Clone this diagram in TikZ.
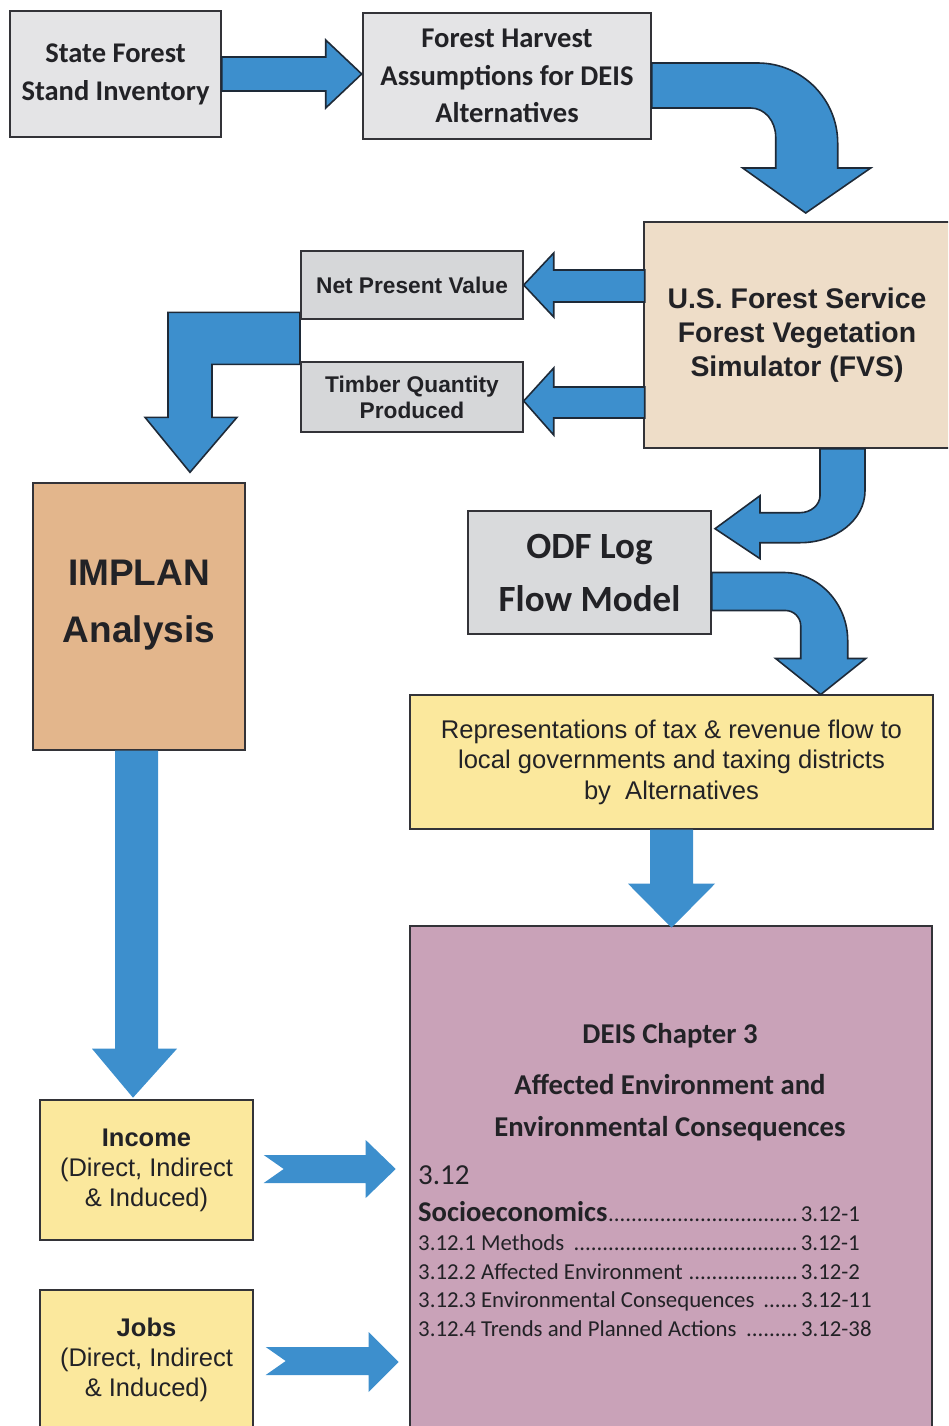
\documentclass[tikz,border=0pt]{standalone}
\usepackage{fontspec}
\setmainfont{Liberation Sans}
\newfontfamily\calib{Carlito}
\usetikzlibrary{calc,backgrounds}
\definecolor{arrowblue}{HTML}{3D8FCD}
\definecolor{arrowline}{HTML}{1E2A38}
\definecolor{boxline}{HTML}{333338}
\definecolor{grayA}{HTML}{E4E4E6}
\definecolor{grayB}{HTML}{D6D7D9}
\definecolor{grayC}{HTML}{D9DADC}
\definecolor{tanA}{HTML}{EEDDC8}
\definecolor{orangeA}{HTML}{E3B68C}
\definecolor{yellowA}{HTML}{FBE89D}
\definecolor{purpleA}{HTML}{C9A2B8}
\definecolor{txt}{HTML}{222226}
\newcommand\tocdots{\leaders\hbox{.}\hfill}
\begin{document}
\begin{tikzpicture}[x=1pt,y=-1pt,
  box/.style={draw=boxline,line width=1.4pt,inner sep=0pt,align=center,text=txt},
  barrow/.style={fill=arrowblue,draw=arrowline,line width=1.6pt,line join=miter},
  farrow/.style={fill=arrowblue},
  head/.style={anchor=base,inner sep=0pt,text=txt,font=\calib\bfseries\fontsize{28.7}{32}\selectfont},
  tocline/.style={anchor=base west,inner sep=0pt,text=txt,font=\calib\fontsize{22.8}{26}\selectfont}]
\useasboundingbox (0,0) rectangle (948,1426);
\clip (0,0) rectangle (948,1426);

% boxes
\node[box,fill=grayA,minimum width=211pt,minimum height=126pt,
  font=\calib\bfseries\fontsize{28.5}{38}\selectfont] (inv) at (115.5,74) {State Forest\\Stand Inventory};
\node[box,fill=grayA,minimum width=288pt,minimum height=126pt,
  font=\calib\bfseries\fontsize{28.6}{37.5}\selectfont] (harv) at (507,76) {Forest Harvest\\Assumptions for DEIS\\Alternatives};
\node[box,fill=tanA,minimum width=306pt,minimum height=226pt,
  font=\bfseries\fontsize{28.4}{34}\selectfont] (fvs) at (797,335) {U.S. Forest Service\\Forest Vegetation\\Simulator (FVS)};
\node[box,fill=grayB,minimum width=222pt,minimum height=68pt,
  font=\bfseries\fontsize{22.7}{26}\selectfont] (npv) at (412,285) {Net Present Value};
\node[box,fill=grayB,minimum width=222pt,minimum height=70pt,
  font=\bfseries\fontsize{22.7}{26}\selectfont] (timber) at (412,397) {Timber Quantity\\Produced};
\node[box,fill=orangeA,minimum width=212pt,minimum height=267pt] (implan) at (139,616.5) {};
\node[text=txt,align=center,font=\bfseries\fontsize{37}{57}\selectfont] (implanT) at ($(implan.center)+(0,-11)$) {IMPLAN\\Analysis};
\node[box,fill=grayC,minimum width=243pt,minimum height=123pt,
  font=\calib\bfseries\fontsize{37}{53}\selectfont] (odf) at (589.5,572.5) {ODF Log\\Flow Model};
\node[box,fill=yellowA,minimum width=523pt,minimum height=134pt,
  font=\fontsize{25.6}{30.5}\selectfont] (rep) at (671.5,762) {Representations of tax \& revenue flow to\\local governments and taxing districts\\by\ \ Alternatives};
\node[box,fill=purpleA,minimum width=522pt,minimum height=504pt] (deis) at (671,1178) {};
\node[box,fill=yellowA,minimum width=213pt,minimum height=140pt,
  font=\fontsize{25.5}{30}\selectfont] (income) at (146.5,1170) {\textbf{Income}\\(Direct, Indirect\\\& Induced)};
\node[box,fill=yellowA,minimum width=213pt,minimum height=140pt,
  font=\fontsize{25.5}{30}\selectfont] (jobs) at (146.5,1360) {\textbf{Jobs}\\(Direct, Indirect\\\& Induced)};

% DEIS text
\node[head] (h1) at (670,1043) {DEIS Chapter 3};
\node[head] (h2) at (670,1094) {Affected Environment and};
\node[head] (h3) at (670,1136) {Environmental Consequences};
\node[tocline,font=\calib\fontsize{29}{32}\selectfont] (t0) at (418,1184) {3.12};
\node[tocline] (t1) at (418,1221) {\makebox[380pt][l]{{\bfseries\fontsize{28.6}{32}\selectfont Socioeconomics}\tocdots}\hspace{3pt}3.12-1};
\node[tocline] (t2) at (418,1250) {\makebox[380pt][l]{3.12.1 Methods \tocdots}\hspace{3pt}3.12-1};
\node[tocline] (t3) at (418,1279) {\makebox[380pt][l]{3.12.2 Affected Environment \tocdots}\hspace{3pt}3.12-2};
\node[tocline] (t4) at (418,1307) {\makebox[380pt][l]{3.12.3 Environmental Consequences \tocdots}\hspace{3pt}3.12-11};
\node[tocline] (t5) at (418,1336) {\makebox[380pt][l]{3.12.4 Trends and Planned Actions \tocdots}\hspace{3pt}3.12-38};

% bent arrow behind NPV / Timber boxes, into IMPLAN
\begin{scope}[on background layer,shift={(implan.north)}]
\draw[barrow] (161,-170) -- (29,-170) -- (29,-65) -- (6,-65) -- (51,-10)
  -- (98,-65) -- (73,-65) -- (73,-118) -- (161,-118) -- cycle;
\end{scope}

% inventory -> harvest
\begin{scope}[shift={(inv.east)}]
\draw[barrow] (0,-17) -- (104,-17) -- (104,-34) -- (140,0) -- (104,34) -- (104,17) -- (0,17) -- cycle;
\end{scope}

% harvest -> FVS (curved)
\begin{scope}[shift={(harv.east)}]
\draw[barrow] (0,-13) -- (106,-13) .. controls (150,-13) and (186,23) .. (186,67)
  -- (186,92) -- (219,92) -- (154,137) -- (91,92) -- (124,92) -- (124,61)
  .. controls (124,45) and (113,32) .. (99,32) -- (0,32) -- cycle;
\end{scope}

% FVS -> NPV
\begin{scope}[shift={(npv.east)}]
\draw[barrow] (0,0) -- (30,-32) -- (30,-15) -- (121,-15) -- (121,17) -- (30,17) -- (30,32) -- cycle;
\end{scope}
% FVS -> Timber
\begin{scope}[shift={(timber.east)}]
\draw[barrow] (0,4) -- (30,-29) -- (30,-10) -- (121,-10) -- (121,21) -- (30,21) -- (30,38) -- cycle;
\end{scope}

% FVS -> ODF (curved)
\begin{scope}[shift={(fvs.south)}]
\draw[barrow] (68,0) -- (68,42) .. controls (68,71) and (39,94) .. (3,94) -- (-37,94)
  -- (-37,110) -- (-82,80) -- (-37,47) -- (-37,64) -- (3,64)
  .. controls (14,64) and (23,56) .. (23,47) -- (23,0) -- cycle;
\end{scope}

% ODF -> representations (curved)
\begin{scope}[shift={(odf.east)}]
\draw[barrow] (0,0) -- (72,0) .. controls (107,0) and (136,31) .. (136,68) -- (136,86)
  -- (154,86) -- (109,122) -- (64,86) -- (89,86) -- (89,53)
  .. controls (89,45) and (82,38) .. (74,38) -- (0,38) -- cycle;
\end{scope}

% representations -> DEIS
\begin{scope}[shift={(rep.south)}]
\fill[farrow] (-21.5,0) -- (21.5,0) -- (21.5,54) -- (43.5,54) -- (0,98) -- (-43.5,54) -- (-21.5,54) -- cycle;
\end{scope}

% IMPLAN -> Income
\begin{scope}[shift={(implan.south)}]
\fill[farrow] (-24,0) -- (19,0) -- (19,298) -- (38,298) -- (-6,347) -- (-47,298) -- (-24,298) -- cycle;
\end{scope}

% Income -> DEIS
\begin{scope}[shift={(income.east)}]
\fill[farrow] (10,-15) -- (112,-15) -- (112,-30) -- (142,-1) -- (112,28) -- (112,13) -- (10,13) -- (30,-1) -- cycle;
\end{scope}
% Jobs -> DEIS
\begin{scope}[shift={(jobs.east)}]
\fill[farrow] (12,-13) -- (115,-13) -- (115,-28) -- (145,2) -- (115,32) -- (115,15) -- (12,15) -- (32,1) -- cycle;
\end{scope}
\end{tikzpicture}
\end{document}
